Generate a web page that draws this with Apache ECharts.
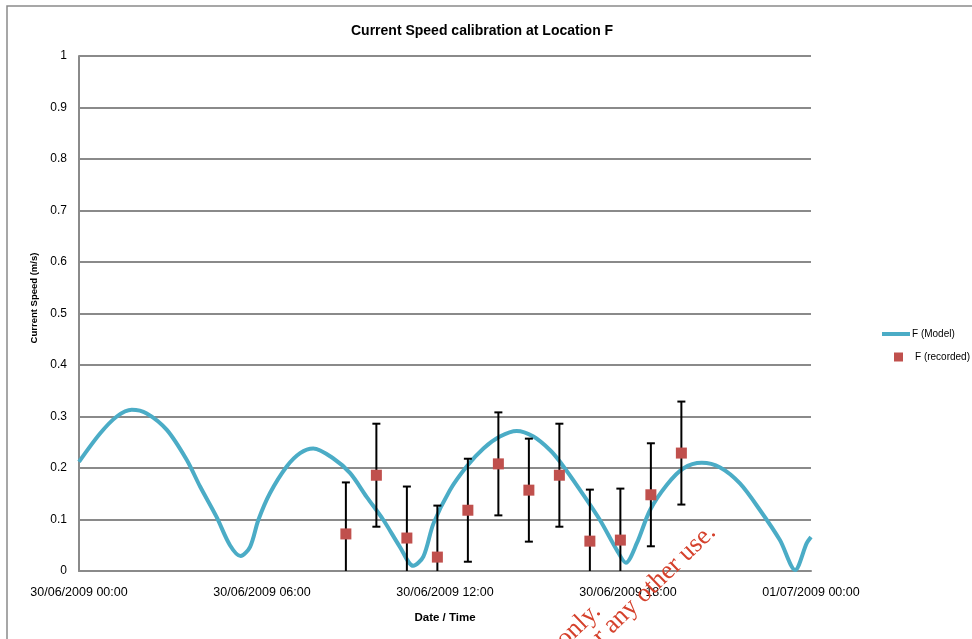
<!DOCTYPE html>
<html>
<head>
<meta charset="utf-8">
<script src="https://cdn.jsdelivr.net/npm/echarts@6/dist/echarts.min.js"></script>
<style>
html,body{margin:0;padding:0;background:#fff;}
#chart{width:972px;height:639px;}
</style>
</head>
<body>
<div id="chart"></div>
<script>
// hours after 30/06/2009 00:00
var modelHours = [0, 0.69, 1.24, 1.73, 2.22, 2.88, 3.53, 3.97, 4.51, 4.95, 5.30, 5.61, 5.88, 6.26, 6.81, 7.25, 7.68, 8.33, 8.89, 9.43, 9.98, 10.52, 10.96, 11.29, 11.62, 12.16, 12.71, 13.26, 13.80, 14.35, 14.90, 15.44, 15.77, 16.43, 17.08, 17.63, 17.93, 18.29, 18.72, 19.27, 19.81, 20.42, 21.02, 21.67, 22.33, 22.98, 23.48, 23.86, 24.0];
var modelSpeed = [0.212, 0.267, 0.300, 0.313, 0.306, 0.274, 0.216, 0.164, 0.105, 0.050, 0.029, 0.047, 0.099, 0.151, 0.203, 0.229, 0.238, 0.219, 0.190, 0.144, 0.099, 0.047, 0.010, 0.028, 0.092, 0.157, 0.203, 0.238, 0.261, 0.272, 0.261, 0.235, 0.212, 0.157, 0.099, 0.041, 0.016, 0.054, 0.118, 0.167, 0.199, 0.210, 0.201, 0.170, 0.118, 0.060, 0.002, 0.054, 0.066];

var recordedHours = [8.75, 9.75, 10.75, 11.75, 12.75, 13.75, 14.75, 15.75, 16.75, 17.75, 18.75, 19.75];
var recordedSpeed = [0.072, 0.186, 0.064, 0.027, 0.118, 0.208, 0.157, 0.186, 0.058, 0.060, 0.148, 0.229];
var recordedError = [0.1, 0.1, 0.1, 0.1, 0.1, 0.1, 0.1, 0.1, 0.1, 0.1, 0.1, 0.1];

var xTickLabels = ['30/06/2009 00:00', '30/06/2009 06:00', '30/06/2009 12:00', '30/06/2009 18:00', '01/07/2009 00:00'];

var modelData = modelHours.map(function (h, i) { return [h, modelSpeed[i]]; });
var recordedData = recordedHours.map(function (h, i) { return [h, recordedSpeed[i]]; });
var errorData = recordedHours.map(function (h, i) {
    return [h, recordedSpeed[i] - recordedError[i], recordedSpeed[i] + recordedError[i]];
});

var font = 'Liberation Sans';
var myChart = echarts.init(document.getElementById('chart'));

var option = {
    backgroundColor: '#fff',
    animation: false,
    textStyle: { fontFamily: font },
    title: {
        text: 'Current Speed calibration at Location F',
        left: 346,
        top: 19,
        textStyle: { fontFamily: font, fontSize: 14, fontWeight: 'bold', color: '#000' }
    },
    legend: [{
        left: 877,
        top: 324,
        itemWidth: 28,
        itemHeight: 4,
        data: [{ name: 'F (Model)', icon: 'rect' }],
        textStyle: { fontFamily: font, fontSize: 10, color: '#000', padding: [0, 0, 0, -3] }
    }, {
        left: 889,
        top: 347,
        itemWidth: 9,
        itemHeight: 9,
        data: [{ name: 'F (recorded)', icon: 'rect' }],
        textStyle: { fontFamily: font, fontSize: 10, color: '#000', padding: [0, 0, 0, 7] }
    }],
    grid: { left: 79, right: 161, top: 56, bottom: 68 },
    xAxis: {
        type: 'value',
        min: 0,
        max: 24,
        interval: 6,
        name: 'Date / Time',
        nameLocation: 'middle',
        nameGap: 41,
        nameTextStyle: { fontFamily: font, fontSize: 11.5, fontWeight: 'bold', color: '#000' },
        axisLine: { show: true, lineStyle: { color: '#8a8a8a', width: 2 } },
        axisTick: { show: false },
        splitLine: { show: false },
        axisLabel: {
            margin: 15,
            fontSize: 12.5,
            color: '#000',
            fontFamily: font,
            formatter: function (v) { return xTickLabels[Math.round(v / 6)]; }
        }
    },
    yAxis: {
        type: 'value',
        min: 0,
        max: 1,
        interval: 0.1,
        axisLine: { show: true, lineStyle: { color: '#8a8a8a', width: 2 } },
        axisTick: { show: false },
        splitLine: { show: true, lineStyle: { color: '#8a8a8a', width: 2 } },
        axisLabel: { margin: 12, fontSize: 12, color: '#000', fontFamily: font }
    },
    graphic: [{
        type: 'rect',
        shape: { x: 7, y: 6, width: 1000, height: 700 },
        style: { fill: 'none', stroke: '#8a8a8a', lineWidth: 1.5 },
        silent: true
    }, {
        type: 'text',
        x: 34,
        y: 298,
        rotation: Math.PI / 2,
        style: {
            text: 'Current Speed (m/s)',
            fontFamily: font,
            fontSize: 9.5,
            fontWeight: 'bold',
            fill: '#000',
            align: 'center',
            verticalAlign: 'middle'
        }
    }, {
        type: 'text',
        x: 606,
        y: 617,
        rotation: 44 * Math.PI / 180,
        z: 100,
        style: {
            text: 'For inspection purposes only.',
            fontFamily: 'Liberation Serif',
            fontSize: 26,
            fill: '#d5412c',
            align: 'right',
            verticalAlign: 'bottom'
        }
    }, {
        type: 'text',
        x: 721,
        y: 538,
        rotation: 44 * Math.PI / 180,
        z: 100,
        style: {
            text: 'Consent of copyright owner required for any other use.',
            fontFamily: 'Liberation Serif',
            fontSize: 26,
            fill: '#d5412c',
            align: 'right',
            verticalAlign: 'bottom'
        }
    }],
    series: [{
        name: 'F (Model)',
        type: 'line',
        data: modelData,
        smooth: 0.3,
        showSymbol: false,
        color: '#4bacc6',
        lineStyle: { color: '#4bacc6', width: 4 },
        z: 2
    }, {
        name: 'error',
        type: 'custom',
        data: errorData,
        clip: true,
        z: 3,
        renderItem: function (params, api) {
            var x = api.value(0);
            var lo = api.coord([x, api.value(1)]);
            var hi = api.coord([x, api.value(2)]);
            var cap = 4;
            var st = { stroke: '#000', lineWidth: 2 };
            return {
                type: 'group',
                children: [
                    { type: 'line', shape: { x1: lo[0], y1: lo[1], x2: hi[0], y2: hi[1] }, style: st },
                    { type: 'line', shape: { x1: hi[0] - cap, y1: hi[1], x2: hi[0] + cap, y2: hi[1] }, style: st },
                    { type: 'line', shape: { x1: lo[0] - cap, y1: lo[1], x2: lo[0] + cap, y2: lo[1] }, style: st }
                ]
            };
        }
    }, {
        name: 'F (recorded)',
        type: 'scatter',
        data: recordedData,
        symbol: 'rect',
        symbolSize: 11,
        color: '#c0504d',
        itemStyle: { color: '#c0504d', opacity: 1 },
        z: 4
    }]
};
myChart.setOption(option);
</script>
</body>
</html>
